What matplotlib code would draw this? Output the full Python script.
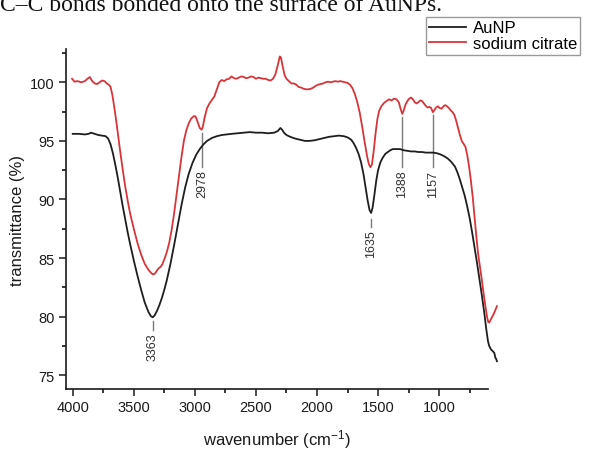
import matplotlib
matplotlib.use("Agg")
import matplotlib.pyplot as plt
from matplotlib.ticker import MultipleLocator
from matplotlib.lines import Line2D

plt.rcParams['font.family'] = ['Liberation Sans', 'DejaVu Sans']
plt.rcParams['mathtext.default'] = 'regular'

# ---------------- data ----------------
aunp_wn = [4000, 3950, 3900, 3870, 3850, 3820, 3790, 3760, 3730, 3710, 3690, 3670, 3650, 3630,
           3610, 3590, 3570, 3550, 3530, 3500, 3470, 3440, 3410, 3380, 3360, 3345, 3330, 3310,
           3290, 3270, 3250, 3230, 3200, 3170, 3140, 3110, 3080, 3050, 3020, 2990, 2960, 2930,
           2900, 2860, 2820, 2780, 2740, 2700, 2650, 2600, 2550, 2500, 2450, 2400, 2350, 2320,
           2300, 2285, 2270, 2250, 2220, 2180, 2140, 2100, 2060, 2020, 1980, 1940, 1900, 1860,
           1820, 1780, 1750, 1720, 1700, 1680, 1660, 1640, 1620, 1600, 1585, 1570, 1557, 1545,
           1530, 1515, 1500, 1480, 1460, 1440, 1420, 1400, 1380, 1350, 1320, 1290, 1260, 1230,
           1200, 1170, 1140, 1110, 1080, 1050, 1020, 990, 960, 930, 900, 870, 850, 830, 810,
           790, 770, 750, 730, 710, 690, 670, 650, 630, 615, 600, 590, 575, 560, 548, 540,
           533, 527]
aunp_t = [95.6, 95.6, 95.55, 95.6, 95.7, 95.6, 95.5, 95.45, 95.4, 95.2, 94.7, 93.9, 92.9, 91.8,
          90.6, 89.4, 88.3, 87.2, 86.2, 84.8, 83.5, 82.3, 81.2, 80.4, 80.05, 79.95, 80.1, 80.5,
          81.0, 81.6, 82.3, 83.1, 84.5, 86.1, 87.8, 89.5, 91.0, 92.2, 93.1, 93.8, 94.3, 94.7,
          95.0, 95.25, 95.4, 95.5, 95.55, 95.6, 95.65, 95.7, 95.75, 95.7, 95.7, 95.65, 95.7, 95.85,
          96.1, 95.95, 95.7, 95.5, 95.35, 95.2, 95.1, 95.0, 95.0, 95.05, 95.15, 95.25, 95.35, 95.4,
          95.45, 95.4, 95.3, 95.1, 94.8, 94.4, 93.9, 93.2, 92.2, 90.9, 89.9, 89.1, 88.85, 89.3,
          90.4, 91.6, 92.5, 93.2, 93.6, 93.9, 94.05, 94.2, 94.3, 94.3, 94.3, 94.2, 94.15, 94.1,
          94.1, 94.05, 94.05, 94.0, 94.0, 94.0, 93.95, 93.85, 93.7, 93.5, 93.2, 92.8, 92.3, 91.7, 91.0,
          90.3, 89.4, 88.4, 87.2, 85.9, 84.6, 83.2, 81.8, 80.3, 79.0, 77.9, 77.5, 77.2, 77.05, 76.9, 76.5,
          76.4, 76.2]

citrate_wn = [4005, 3985, 3960, 3930, 3900, 3880, 3860, 3840, 3820, 3800, 3780, 3760, 3740, 3720,
              3700, 3690, 3675, 3660, 3645, 3630, 3610, 3590, 3570, 3550, 3530, 3500, 3470, 3440,
              3410, 3380, 3355, 3340, 3325, 3310, 3295, 3280, 3265, 3250, 3230, 3210, 3190, 3170,
              3150, 3130, 3110, 3090, 3070, 3050, 3030, 3010, 2995, 2980, 2960, 2945, 2935, 2920,
              2900, 2880, 2860, 2840, 2820, 2800, 2780, 2760, 2740, 2720, 2700, 2680, 2660, 2640,
              2620, 2600, 2580, 2560, 2540, 2520, 2500, 2480, 2460, 2440, 2420, 2400, 2380, 2360,
              2340, 2320, 2305, 2295, 2280, 2265, 2250, 2230, 2210, 2190, 2170, 2150, 2130, 2110,
              2090, 2070, 2050, 2030, 2010, 1990, 1970, 1950, 1930, 1910, 1890, 1870, 1850, 1830,
              1810, 1790, 1770, 1750, 1730, 1710, 1690, 1670, 1650, 1630, 1610, 1590, 1575, 1562,
              1550, 1535, 1520, 1505, 1490, 1470, 1450, 1430, 1410, 1390, 1370, 1350, 1330, 1315,
              1302, 1290, 1275, 1260, 1245, 1230, 1215, 1200, 1185, 1170, 1155, 1140, 1125, 1110,
              1095, 1080, 1065, 1052, 1040, 1025, 1010, 995, 980, 965, 950, 935, 920, 905, 890,
              875, 860, 845, 830, 815, 800, 785, 770, 755, 740, 725, 710, 695, 680, 665, 650, 635,
              620, 608, 598, 590, 580, 565, 550, 535, 527]
citrate_t = [100.3, 100.05, 100.1, 100.0, 100.1, 100.3, 100.45, 100.1, 99.9, 99.85, 100.0, 100.15, 100.1, 99.9,
             99.75, 99.6, 98.9, 97.9, 96.8, 95.6, 94.0, 92.5, 91.1, 89.9, 88.8, 87.5, 86.3, 85.3,
             84.5, 84.0, 83.7, 83.6, 83.7, 83.95, 84.15, 84.25, 84.5, 84.9, 85.5, 86.3, 87.4, 88.8,
             90.4, 92.0, 93.6, 95.0, 95.9, 96.5, 96.9, 97.1, 97.1, 96.7, 96.1, 95.95, 96.2, 97.0,
             97.8, 98.2, 98.5, 98.8, 99.4, 100.0, 100.2, 100.1, 100.25, 100.3, 100.5, 100.35, 100.3, 100.4,
             100.5, 100.45, 100.35, 100.4, 100.5, 100.45, 100.3, 100.4, 100.35, 100.3, 100.3, 100.2, 100.15, 100.3,
             100.7, 101.5, 102.2, 102.1, 101.3, 100.6, 100.3, 100.1, 99.9, 99.9, 99.8, 99.6, 99.55, 99.45,
             99.4, 99.4, 99.45, 99.55, 99.7, 99.8, 99.85, 99.9, 100.0, 100.05, 100.0, 100.05, 100.1, 100.05,
             100.1, 100.05, 100.0, 99.95, 99.8, 99.5, 99.0, 98.3, 97.4, 96.2, 94.9, 93.7, 93.0, 92.75,
             93.0, 94.2, 95.7, 96.9, 97.6, 98.0, 98.25, 98.4, 98.55, 98.45, 98.6, 98.55, 98.3, 97.7,
             97.3, 97.6, 98.1, 98.4, 98.6, 98.7, 98.55, 98.3, 98.2, 98.3, 98.45, 98.4, 98.2, 98.0,
             97.85, 97.9, 97.8, 97.45, 97.6, 97.85, 97.95, 97.8, 97.75, 97.95, 98.05, 97.95, 97.8, 97.6, 97.45,
             97.2, 96.7, 96.1, 95.5, 95.0, 94.75, 94.5, 93.8, 92.8, 91.6, 90.2, 88.5, 86.8, 85.3, 84.2, 83.1, 81.9,
             80.8, 80.0, 79.55, 79.5, 79.7, 80.0, 80.3, 80.7, 80.9]

# peak annotations: label text, x position, line top, line bottom
peak_labels = ['3363', '2978', '1635', '1388', '1157']
peak_x = [3345, 2939, 1557, 1301, 1052]
peak_line_top = [79.6, 95.7, 88.3, 97.0, 97.2]
peak_line_bottom = [78.9, 92.75, 87.65, 92.75, 92.75]

series_labels = ['AuNP', 'sodium citrate']
x_ticks = [4000, 3500, 3000, 2500, 2000, 1500, 1000]
y_ticks = [75, 80, 85, 90, 95, 100]

# ---------------- figure ----------------
W, H = 590, 456
fig = plt.figure(figsize=(W / 100, H / 100), dpi=100)
ax = fig.add_axes([66 / W, 1 - 390 / H, (488 - 66) / W, (390 - 50) / H])

black = '#1e1e1e'
red = '#d8343a'
ax.plot(aunp_wn, aunp_t, color=black, lw=1.3, clip_on=False, zorder=3)
ax.plot(citrate_wn, citrate_t, color=red, lw=1.3, clip_on=False, zorder=3)

for lab, x, yt, yb in zip(peak_labels, peak_x, peak_line_top, peak_line_bottom):
    ax.plot([x, x], [yt, yb], color='#7a7a7a', lw=1.0, zorder=2)
    ax.text(x, yb - 0.2, lab, rotation=90, ha='center', va='top',
            fontsize=9, color='#303030')

ax.set_xlim(4055, 600)
ax.set_ylim(73.83, 102.84)
ax.set_xticks(x_ticks)
ax.set_xticklabels([str(t) for t in x_ticks])
ax.set_yticks(y_ticks)
ax.set_yticklabels([str(t) for t in y_ticks])
ax.xaxis.set_minor_locator(MultipleLocator(250))
ax.yaxis.set_minor_locator(MultipleLocator(2.5))
ax.tick_params(axis='both', which='major', direction='out', length=5, width=1.1,
               labelsize=10.5, colors='#1a1a1a', pad=3)
ax.tick_params(axis='both', which='minor', direction='out', length=3, width=1.1)
for s in ['top', 'right']:
    ax.spines[s].set_visible(False)
for s in ['left', 'bottom']:
    ax.spines[s].set_linewidth(1.2)
    ax.spines[s].set_color('#1a1a1a')

ax.set_xlabel('wavenumber (cm$^{-1}$)', fontsize=12, labelpad=9, color='#1a1a1a')
ax.set_ylabel('transmittance (%)', fontsize=12, labelpad=4, color='#1a1a1a')

handles = [Line2D([], [], color=black, lw=1.3), Line2D([], [], color=red, lw=1.3)]
leg = fig.legend(handles, series_labels, loc='upper left',
                 bbox_to_anchor=(426 / W, 1 - 18 / H), fontsize=12,
                 frameon=True, fancybox=False, edgecolor='#808080',
                 handlelength=2.2, handletextpad=0.4, borderpad=0.2,
                 labelspacing=0.05, borderaxespad=0)
leg.get_frame().set_linewidth(1.0)

fig.text(0 / W, 1 - 11 / H, 'C\u2013C bonds bonded onto the surface of AuNPs.',
         family='Liberation Serif', fontsize=17, va='baseline', ha='left', color='#111111')

fig.savefig('out.png', dpi=100)
